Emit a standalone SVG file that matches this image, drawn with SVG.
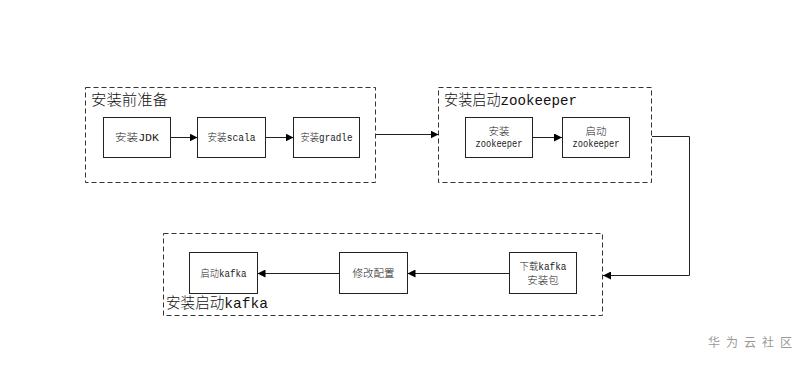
<svg xmlns="http://www.w3.org/2000/svg" width="804" height="366" viewBox="0 0 804 366">
<defs>
<style>
.grp{fill:none;stroke:#333;stroke-width:1;stroke-dasharray:5 3}
.box{fill:#fff;stroke:#222;stroke-width:1}
.edge{fill:none;stroke:#222;stroke-width:1}
.gl{font-family:"Liberation Mono","Noto Sans CJK SC",monospace;font-size:15px;font-weight:300;fill:#111}
.bl{font-family:"Liberation Mono","Noto Sans CJK SC",monospace;font-size:10.5px;font-weight:300;fill:#222;text-anchor:middle}
.wm{font-family:"Noto Sans CJK SC",sans-serif;font-size:12px;fill:#999;letter-spacing:6px}
</style>
<marker id="arr" viewBox="0 0 10 10" refX="10" refY="5" markerWidth="8" markerHeight="8" markerUnits="userSpaceOnUse" orient="auto">
<path d="M0,0 L10,5 L0,10 z" fill="#000"/>
</marker>
</defs>
<rect width="804" height="366" fill="#fff"/>

<g id="group-prep">
<rect class="grp" x="85.5" y="87.5" width="290" height="95"/>
<text class="gl" x="91" y="105" textLength="77" lengthAdjust="spacingAndGlyphs">安装前准备</text>
</g>
<g id="group-zk">
<rect class="grp" x="438.5" y="87.5" width="213" height="95"/>
<text class="gl" x="444" y="105" textLength="133" lengthAdjust="spacingAndGlyphs">安装启动zookeeper</text>
</g>
<g id="group-kafka">
<rect class="grp" x="163.5" y="233.5" width="439" height="82"/>
<text class="gl" x="166" y="308" textLength="102" lengthAdjust="spacingAndGlyphs">安装启动kafka</text>
</g>

<g id="connectors">
<line class="edge" x1="170.5" y1="137.5" x2="197.5" y2="137.5" marker-end="url(#arr)"/>
<line class="edge" x1="265.5" y1="137.5" x2="293.5" y2="137.5" marker-end="url(#arr)"/>
<line class="edge" x1="376" y1="134.5" x2="438.5" y2="134.5" marker-end="url(#arr)"/>
<line class="edge" x1="532.5" y1="137.5" x2="562" y2="137.5" marker-end="url(#arr)"/>
<polyline class="edge" points="652,136.5 689.5,136.5 689.5,275.5 603,275.5" marker-end="url(#arr)"/>
<line class="edge" x1="509.5" y1="273.5" x2="407.5" y2="273.5" marker-end="url(#arr)"/>
<line class="edge" x1="339.5" y1="273.5" x2="257.5" y2="273.5" marker-end="url(#arr)"/>
</g>

<g id="node-jdk">
<rect class="box" x="103.5" y="117.5" width="67" height="40"/>
<text class="bl" x="137" y="141" textLength="44" lengthAdjust="spacingAndGlyphs">安装JDK</text>
</g>
<g id="node-scala">
<rect class="box" x="197.5" y="117.5" width="68" height="40"/>
<text class="bl" x="231.5" y="141" textLength="48" lengthAdjust="spacingAndGlyphs">安装scala</text>
</g>
<g id="node-gradle">
<rect class="box" x="293.5" y="117.5" width="66" height="40"/>
<text class="bl" x="326.5" y="141" textLength="52" lengthAdjust="spacingAndGlyphs">安装gradle</text>
</g>
<g id="node-install-zk">
<rect class="box" x="465.5" y="117.5" width="67" height="40"/>
<text class="bl" x="499" y="134.5">安装</text>
<text class="bl" x="499" y="147" textLength="47" lengthAdjust="spacingAndGlyphs">zookeeper</text>
</g>
<g id="node-start-zk">
<rect class="box" x="562.5" y="117.5" width="67" height="40"/>
<text class="bl" x="596" y="134.5">启动</text>
<text class="bl" x="596" y="147" textLength="47" lengthAdjust="spacingAndGlyphs">zookeeper</text>
</g>
<g id="node-download">
<rect class="box" x="509.5" y="252.5" width="67" height="41"/>
<text class="bl" x="543" y="270" textLength="47" lengthAdjust="spacingAndGlyphs">下载kafka</text>
<text class="bl" x="543" y="283.5">安装包</text>
</g>
<g id="node-config">
<rect class="box" x="339.5" y="252.5" width="68" height="41"/>
<text class="bl" x="373.5" y="277" textLength="42" lengthAdjust="spacingAndGlyphs">修改配置</text>
</g>
<g id="node-start-kafka">
<rect class="box" x="189.5" y="252.5" width="68" height="41"/>
<text class="bl" x="223.5" y="277" textLength="46" lengthAdjust="spacingAndGlyphs">启动kafka</text>
</g>

<text class="wm" x="708" y="347">华为云社区</text>
</svg>
